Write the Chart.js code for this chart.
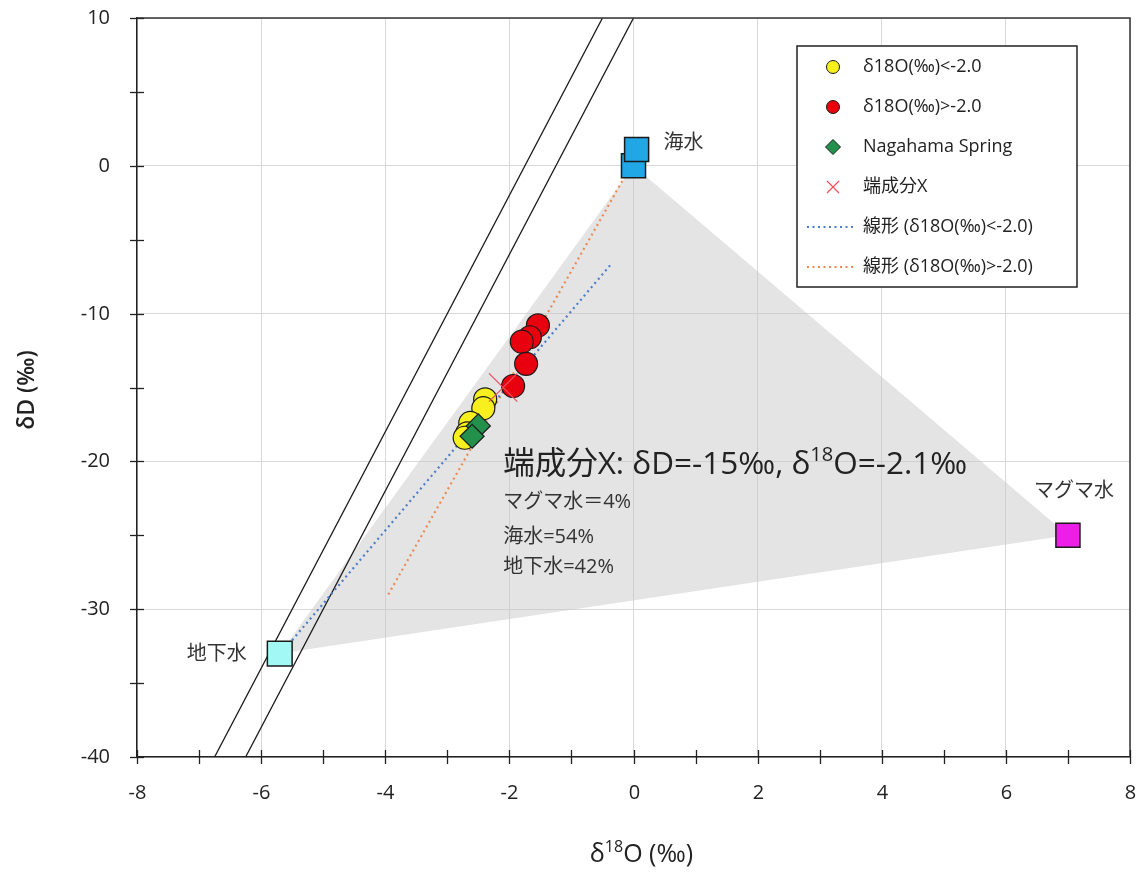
<!DOCTYPE html>
<html>
<head>
<meta charset="utf-8">
<script src="https://cdn.jsdelivr.net/npm/chart.js@4.4.1/dist/chart.umd.min.js"></script>
<style>
  html, body { margin: 0; padding: 0; background: #fff; }
  #wrap { width: 1141px; height: 873px; }
</style>
</head>
<body>
<div id="wrap"><canvas id="c" width="1141" height="873"></canvas></div>
<script>
// Samples with δ18O below -2.0 ‰
const lowX = [-2.39, -2.42, -2.63, -2.68, -2.72];
const lowD = [-15.8, -16.4, -17.4, -18.1, -18.4];
// Samples with δ18O above -2.0 ‰
const highX = [-1.54, -1.67, -1.80, -1.73, -1.94];
const highD = [-10.8, -11.6, -11.9, -13.4, -14.9];
// Nagahama Spring
const springX = [-2.50, -2.60];
const springD = [-17.6, -18.3];
// End member X
const endX = [-2.1];
const endD = [-15];
// End-member waters
const seaX = [0, 0.05];
const seaD = [0, 1.1];
const groundX = [-5.7];
const groundD = [-33];
const magmaX = [7];
const magmaD = [-25];
// Meteoric water lines (δD = 8·δ18O + 14 and δD = 8·δ18O + 10)
const mwlAX = [-6.75, -0.5];
const mwlAD = [-40, 10];
const mwlBX = [-6.25, 0];
const mwlBD = [-40, 10];
// Linear trend lines of the two sample groups
const trendLowX = [-5.5, -0.35];
const trendLowD = [-32.1, -6.6];
const trendHighX = [-3.95, -0.15];
const trendHighD = [-29.0, -0.8];
// Mixing triangle: groundwater, seawater, magmatic water
const mixX = [-5.7, 0, 7, -5.7];
const mixD = [-33, 0, -25, -33];
// Axis ranges and tick steps
const xRange = [-8, 8];
const yRange = [-40, 10];
const xLabelStep = 2, xMinorStep = 1;
const yLabelStep = 10, yMinorStep = 5;

const FONT = "'Open Sans', 'Noto Sans CJK JP', sans-serif";
const pts = (xs, ys) => xs.map((v, i) => ({ x: v, y: ys[i] }));

const datasets = [
  { label: '端成分X', data: pts(endX, endD), pointStyle: 'crossRot', pointRadius: 20,
    borderColor: '#ee4d5a', backgroundColor: '#ee4d5a', pointBorderWidth: 1.2, order: 1 },
  { label: 'Nagahama Spring', data: pts(springX, springD), pointStyle: 'rectRot', pointRadius: 12,
    backgroundColor: '#23914c', borderColor: '#1a1a1a', pointBorderWidth: 1.2, order: 2 },
  { label: 'δ18O(‰)<-2.0', data: pts(lowX, lowD), pointStyle: 'circle', pointRadius: 11.5,
    backgroundColor: '#f7f01e', borderColor: '#1a1a1a', pointBorderWidth: 1.2, order: 3 },
  { label: 'δ18O(‰)>-2.0', data: pts(highX, highD), pointStyle: 'circle', pointRadius: 11.5,
    backgroundColor: '#e8000e', borderColor: '#1a1a1a', pointBorderWidth: 1.2, order: 4 },
  { label: '海水', data: pts(seaX, seaD), pointStyle: 'rect', pointRadius: 17,
    backgroundColor: '#21a6e6', borderColor: '#1a1a1a', pointBorderWidth: 1.5, order: 5 },
  { label: '地下水', data: pts(groundX, groundD), pointStyle: 'rect', pointRadius: 17.5,
    backgroundColor: '#a2f8f4', borderColor: '#1a1a1a', pointBorderWidth: 1.5, order: 5 },
  { label: 'マグマ水', data: pts(magmaX, magmaD), pointStyle: 'rect', pointRadius: 17,
    backgroundColor: '#ec1fe8', borderColor: '#1a1a1a', pointBorderWidth: 1.5, order: 5 },
  { label: '線形 (δ18O(‰)<-2.0)', data: pts(trendLowX, trendLowD), showLine: true, pointRadius: 0,
    borderColor: '#4d7dc9', borderWidth: 2.2, borderDash: [2, 3.5], order: 6, isLine: true },
  { label: '線形 (δ18O(‰)>-2.0)', data: pts(trendHighX, trendHighD), showLine: true, pointRadius: 0,
    borderColor: '#ec8a54', borderWidth: 2.2, borderDash: [2, 3.5], order: 7, isLine: true },
  { label: 'MWL+14', data: pts(mwlAX, mwlAD), showLine: true, pointRadius: 0,
    borderColor: '#1a1a1a', borderWidth: 1.3, order: 8 },
  { label: 'MWL+10', data: pts(mwlBX, mwlBD), showLine: true, pointRadius: 0,
    borderColor: '#1a1a1a', borderWidth: 1.3, order: 8 },
  { label: 'mix', data: pts(mixX, mixD), showLine: true, pointRadius: 0, borderWidth: 0,
    borderColor: 'rgba(0,0,0,0)', backgroundColor: 'rgba(196,196,196,0.45)', fill: 'shape', order: 20 }
];

// Legend order as listed in the box
const legendOrder = ['δ18O(‰)<-2.0', 'δ18O(‰)>-2.0', 'Nagahama Spring', '端成分X',
  '線形 (δ18O(‰)<-2.0)', '線形 (δ18O(‰)>-2.0)'];

function drawRich(ctx, parts, x, y, size, weight, color, align) {
  ctx.save();
  ctx.fillStyle = color;
  ctx.textBaseline = 'middle';
  ctx.textAlign = 'left';
  let total = 0;
  const widths = parts.map(p => {
    ctx.font = `${weight} ${p.sup ? Math.round(size * 0.62) : size}px ${FONT}`;
    return ctx.measureText(p.t).width;
  });
  widths.forEach(w => total += w);
  let cx = align === 'center' ? x - total / 2 : align === 'right' ? x - total : x;
  parts.forEach((p, i) => {
    ctx.font = `${weight} ${p.sup ? Math.round(size * 0.62) : size}px ${FONT}`;
    ctx.fillText(p.t, cx, p.sup ? y - size * 0.3 : y);
    cx += widths[i];
  });
  ctx.restore();
}

const decor = {
  id: 'decor',
  afterDraw(chart) {
    const { ctx, chartArea: a, scales: { x, y } } = chart;
    ctx.save();
    // frame on top and right
    ctx.strokeStyle = '#333';
    ctx.lineWidth = 1.5;
    ctx.beginPath();
    ctx.moveTo(a.left, a.top); ctx.lineTo(a.right, a.top); ctx.lineTo(a.right, a.bottom);
    ctx.stroke();
    // tick marks crossing the axes, with their labels
    ctx.lineWidth = 1.3;
    ctx.strokeStyle = '#222';
    ctx.fillStyle = '#222';
    ctx.font = `20px ${FONT}`;
    x.ticks.forEach(t => {
      const px = Math.round(x.getPixelForValue(t.value)) + 0.5;
      ctx.beginPath(); ctx.moveTo(px, a.bottom - 7); ctx.lineTo(px, a.bottom + 7); ctx.stroke();
      if (t.value % xLabelStep === 0) {
        ctx.textAlign = 'center'; ctx.textBaseline = 'middle';
        ctx.fillText(String(t.value), px, a.bottom + 36);
      }
    });
    y.ticks.forEach(t => {
      const py = Math.round(y.getPixelForValue(t.value)) + 0.5;
      ctx.beginPath(); ctx.moveTo(a.left - 7, py); ctx.lineTo(a.left + 7, py); ctx.stroke();
      if (t.value % yLabelStep === 0) {
        ctx.textAlign = 'right'; ctx.textBaseline = 'middle';
        ctx.fillText(String(t.value), a.left - 27, py);
      }
    });
    ctx.restore();

    // axis titles
    drawRich(ctx, [{ t: 'δ' }, { t: '18', sup: true }, { t: 'O (‰)' }], (a.left + a.right) / 2 + 8, 855, 25, 500, '#222', 'center');
    ctx.save();
    ctx.translate(27, 390);
    ctx.rotate(-Math.PI / 2);
    drawRich(ctx, [{ t: 'δD (‰)' }], 0, 0, 23, 600, '#222', 'center');
    ctx.restore();

    // end-member names beside their markers
    ctx.save();
    ctx.fillStyle = '#333';
    ctx.font = `20px ${FONT}`;
    ctx.textBaseline = 'middle';
    ctx.textAlign = 'left';
    ctx.fillText('海水', x.getPixelForValue(seaX[1]) + 27, y.getPixelForValue(seaD[1]) - 6);
    ctx.textAlign = 'center';
    ctx.fillText('マグマ水', x.getPixelForValue(magmaX[0]) + 6, y.getPixelForValue(magmaD[0]) - 44);
    ctx.textAlign = 'right';
    ctx.fillText('地下水', x.getPixelForValue(groundX[0]) - 33, y.getPixelForValue(groundD[0]) + 1);
    ctx.restore();

    // mixing result
    const tx = x.getPixelForValue(endX[0]);
    drawRich(ctx, [{ t: '端成分X: δD=-15‰, δ' }, { t: '18', sup: true }, { t: 'O=-2.1‰' }], tx, 465, 31.5, 400, '#222', 'left');
    drawRich(ctx, [{ t: 'マグマ水＝4%' }], tx, 502, 20, 400, '#333', 'left');
    drawRich(ctx, [{ t: '海水=54%' }], tx, 537, 20, 400, '#333', 'left');
    drawRich(ctx, [{ t: '地下水=42%' }], tx, 567, 20, 400, '#333', 'left');

    // legend box
    ctx.save();
    ctx.fillStyle = '#fff';
    ctx.strokeStyle = '#222';
    ctx.lineWidth = 1.5;
    ctx.fillRect(797, 46, 280, 241);
    ctx.strokeRect(797, 46, 280, 241);
    legendOrder.forEach((name, i) => {
      const ds = datasets.find(d => d.label === name);
      const cy = 67 + i * 40;
      ctx.save();
      if (ds.isLine) {
        ctx.strokeStyle = ds.borderColor;
        ctx.lineWidth = 2.2;
        ctx.setLineDash([2, 3.5]);
        ctx.beginPath(); ctx.moveTo(807, cy); ctx.lineTo(853, cy); ctx.stroke();
      } else {
        ctx.fillStyle = ds.backgroundColor;
        ctx.strokeStyle = ds.borderColor;
        ctx.lineWidth = ds.pointStyle === 'crossRot' ? 1.2 : 1;
        const r = ds.pointStyle === 'crossRot' ? 8.5 : ds.pointStyle === 'rectRot' ? 7.5 : 6.5;
        Chart.helpers.drawPoint(ctx, { pointStyle: ds.pointStyle, radius: r, borderWidth: 1, rotation: 0 }, 833, cy);
      }
      ctx.restore();
      ctx.fillStyle = '#222';
      ctx.font = `18px ${FONT}`;
      ctx.textBaseline = 'middle';
      ctx.textAlign = 'left';
      ctx.fillText(name, 863, cy);
    });
    ctx.restore();
  }
};

new Chart(document.getElementById('c'), {
  type: 'scatter',
  data: { datasets },
  options: {
    responsive: false,
    animation: false,
    layout: { autoPadding: false, padding: { top: 18, right: 11, left: 0, bottom: 0 } },
    plugins: { legend: { display: false }, tooltip: { enabled: false } },
    scales: {
      x: {
        type: 'linear', min: xRange[0], max: xRange[1],
        afterFit: s => { s.height = 116; },
        ticks: { stepSize: xMinorStep, autoSkip: false, display: false },
        grid: {
          drawTicks: false, lineWidth: 1,
          color: c => (c.tick && c.tick.value % xLabelStep === 0 ? '#d9d9d9' : 'rgba(0,0,0,0)')
        },
        border: { display: true, color: '#222', width: 1.5 }
      },
      y: {
        type: 'linear', min: yRange[0], max: yRange[1],
        afterFit: s => { s.width = 137; },
        ticks: { stepSize: yMinorStep, autoSkip: false, display: false },
        grid: {
          drawTicks: false, lineWidth: 1,
          color: c => (c.tick && c.tick.value % yLabelStep === 0 ? '#d9d9d9' : 'rgba(0,0,0,0)')
        },
        border: { display: true, color: '#222', width: 1.5 }
      }
    }
  },
  plugins: [decor]
});
</script>
</body>
</html>
